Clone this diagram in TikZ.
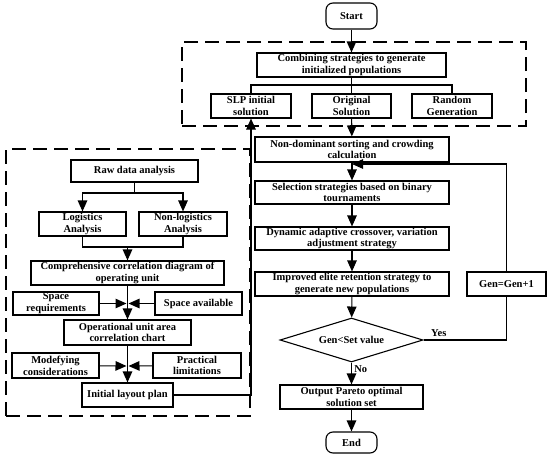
\documentclass[tikz,border=0pt]{standalone}
\usepackage{fontspec}
\setmainfont{Liberation Serif}
\usetikzlibrary{arrows.meta,shapes.geometric}
\begin{document}
\begin{tikzpicture}[x=1pt,y=-1pt,
  every node/.style={font=\fontsize{10.5}{11.8}\selectfont\bfseries},
  box/.style={draw,line width=1.1pt,rectangle,align=center,inner sep=0pt},
  term/.style={box,rounded corners=7pt},
  dashframe/.style={draw,line width=1.1pt,dash pattern=on 14pt off 7pt,rectangle,inner sep=0pt},
  arr/.style={line width=1.1pt,-{Triangle[length=11pt,width=9.5pt]}},
  ln/.style={line width=1.1pt}]
\useasboundingbox (0,0) rectangle (550,458);
% frames
\node[dashframe,minimum width=344pt,minimum height=84pt] (f1) at (354,84) {};
\node[dashframe,minimum width=244pt,minimum height=267pt] (f2) at (128,282.5) {};
% right flow
\node[term,minimum width=51pt,minimum height=26pt] (start) at (351.5,16) {Start};
\node[box,minimum width=189pt,minimum height=24pt] (comb) at (351.5,65) {Combining strategies to generate\\initialized populations};
\node[box,minimum width=80pt,minimum height=24pt] (slp) at (251,106) {SLP initial\\solution};
\node[box,minimum width=79pt,minimum height=24pt] (orig) at (351.5,106) {Original\\Solution};
\node[box,minimum width=80pt,minimum height=24pt] (rand) at (452,106) {Random\\Generation};
\node[box,minimum width=194pt,minimum height=25pt] (nond) at (352,149.5) {Non-dominant sorting and crowding\\calculation};
\node[box,minimum width=194pt,minimum height=23pt] (sel) at (352,192.5) {Selection strategies based on binary\\tournaments};
\node[box,minimum width=194pt,minimum height=23pt] (dyn) at (352,238.5) {Dynamic adaptive crossover, variation\\adjustment strategy};
\node[box,minimum width=194pt,minimum height=24pt] (imp) at (352,284) {Improved elite retention strategy to\\generate new populations};
\node[box,minimum width=79pt,minimum height=24pt] (gen) at (506.5,284) {Gen=Gen+1};
\node[draw,line width=1.1pt,diamond,aspect=3.25,inner sep=0pt,minimum width=143pt,minimum height=44pt] (dia) at (351.5,340) {Gen<Set value};
\node[box,minimum width=143pt,minimum height=24pt] (out) at (351.5,397) {Output Pareto optimal\\solution set};
\node[term,minimum width=51pt,minimum height=21pt] (end) at (351.5,442.5) {End};
% left flow
\node[box,minimum width=127pt,minimum height=22pt] (raw) at (134.5,171) {Raw data analysis};
\node[box,minimum width=87pt,minimum height=24pt] (log) at (82.5,224) {Logistics\\Analysis};
\node[box,minimum width=88pt,minimum height=24pt] (nonlog) at (183,224) {Non-logistics\\Analysis};
\node[box,minimum width=193pt,minimum height=24pt] (comp) at (127.5,273) {Comprehensive correlation diagram of\\operating unit};
\node[box,minimum width=86pt,minimum height=23pt] (sreq) at (56,303.5) {Space\\requirements};
\node[box,minimum width=87pt,minimum height=23pt] (savail) at (198.5,303.5) {Space available};
\node[box,minimum width=127pt,minimum height=25pt] (oper) at (127.5,332.5) {Operational unit area\\correlation chart};
\node[box,minimum width=87pt,minimum height=25pt] (mod) at (55.5,365.5) {Modefying\\considerations};
\node[box,minimum width=88pt,minimum height=25pt] (prac) at (197,365.5) {Practical\\limitations};
\node[box,minimum width=91pt,minimum height=24pt] (init) at (127.5,395) {Initial layout plan};
% coordinates
\coordinate (br) at (351.5,85);
\coordinate (fb) at (352,164);
\coordinate (b1) at (134.5,193);
\coordinate (m1) at (127.5,247);
\coordinate (j1) at (127.5,303.5);
\coordinate (j2) at (127.5,366);
% connectors right
\draw[arr] (start) -- (comb);
\draw[ln] (comb) -- (orig);
\draw[ln] (slp.north) |- (br) -| (rand.north);
\draw[arr] (orig) -- (nond);
\draw[arr] (nond) -- (sel);
\draw[arr] (sel) -- (dyn);
\draw[arr] (dyn) -- (imp);
\draw[arr] (imp) -- (dia);
\draw[arr] (dia) -- node[right,pos=0.3,xshift=-1pt] {No} (out);
\draw[arr] (out) -- (end);
\draw[ln] (dia.east) -| node[pos=0.08,above,xshift=2pt] {Yes} (gen.south);
\draw[arr] (gen.north) |- (fb);
% connectors left
\draw[ln] (raw.south) -- (b1);
\draw[arr] (b1) -| (log.north);
\draw[arr] (b1) -| (nonlog.north);
\draw[ln] (log.south) |- (m1) -| (nonlog.south);
\draw[arr] (m1) -- (comp.north);
\draw[arr] (comp) -- (oper);
\draw[arr,shorten >=1pt] (sreq) -- (j1);
\draw[arr,shorten >=1pt] (savail) -- (j1);
\draw[arr] (oper) -- (init);
\draw[arr,shorten >=1pt] (mod) -- (j2);
\draw[arr,shorten >=1pt] (prac) -- (j2);
\draw[arr] (init.east) -| (slp.south);
\end{tikzpicture}
\end{document}
